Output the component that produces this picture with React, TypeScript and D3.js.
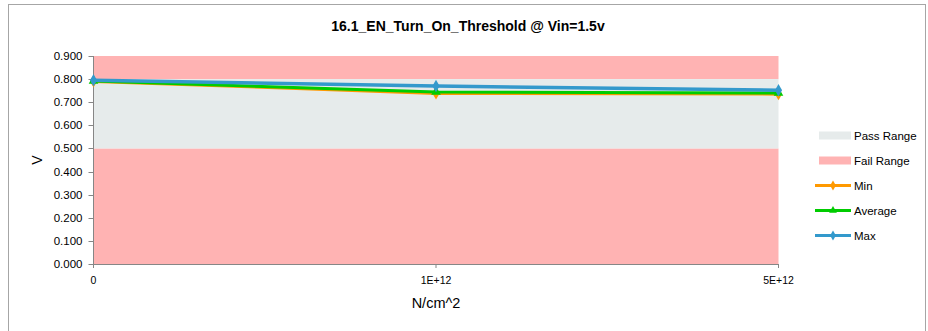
import * as d3 from "d3";

const categories = ["0", "1E+12", "5E+12"];
const minValues = [0.79, 0.738, 0.735];
const avgValues = [0.792, 0.744, 0.74];
const maxValues = [0.795, 0.77, 0.752];
const yTicks = [0, 0.1, 0.2, 0.3, 0.4, 0.5, 0.6, 0.7, 0.8, 0.9];
const passRange = [0.5, 0.8];
const failRanges = [
  [0, 0.5],
  [0.8, 0.9],
];

const series = [
  { name: "Min", values: minValues, color: "#FF9900", marker: "diamond", width: 3 },
  { name: "Average", values: avgValues, color: "#00CC00", marker: "triangle", width: 3 },
  { name: "Max", values: maxValues, color: "#3399CC", marker: "diamond", width: 3.5 },
];

const font = "'Liberation Sans', Arial, sans-serif";

export default function App() {
  const width = 928;
  const height = 331;
  const plot = { left: 93.5, right: 778.5, top: 56, bottom: 264 };

  const x = d3.scalePoint<string>().domain(categories).range([plot.left, plot.right]).padding(0);
  const y = d3.scaleLinear().domain([0, 0.9]).range([plot.bottom, plot.top]);

  const line = d3
    .line<number>()
    .x((_, i) => x(categories[i])!)
    .y((d) => y(d));

  const diamond = d3.symbol(d3.symbolDiamond, 44)();
  const triangle = d3.symbol(d3.symbolTriangle, 40)();
  const smallDiamond = d3.symbol(d3.symbolDiamond, 28)();
  const smallTriangle = d3.symbol(d3.symbolTriangle, 26)();

  const legendX = 819;
  const legendItems = [
    { name: "Pass Range", kind: "rect", color: "#E6EBEB", marker: "" },
    { name: "Fail Range", kind: "rect", color: "#FFB3B3", marker: "" },
    ...series.map((s) => ({ name: s.name, kind: "line", color: s.color, marker: s.marker })),
  ];

  return (
    <svg
      width={width}
      height={height}
      style={{ position: "absolute", left: 0, top: 0, fontFamily: font }}
    >
      <rect x={0} y={0} width={width} height={height} fill="#fff" />
      <rect x={8.5} y={4.5} width={917} height={340} fill="#fff" stroke="#A6A6A6" />

      <text x={468} y={31} textAnchor="middle" fontSize={14} fontWeight="bold" fill="#000">
        16.1_EN_Turn_On_Threshold @ Vin=1.5v
      </text>

      {failRanges.map((r, i) => (
        <rect
          key={i}
          x={plot.left}
          y={y(r[1])}
          width={plot.right - plot.left}
          height={y(r[0]) - y(r[1])}
          fill="#FFB3B3"
        />
      ))}
      <rect
        x={plot.left}
        y={y(passRange[1])}
        width={plot.right - plot.left}
        height={y(passRange[0]) - y(passRange[1])}
        fill="#E6EBEB"
      />

      {/* y axis */}
      <line x1={plot.left} x2={plot.left} y1={plot.top} y2={plot.bottom} stroke="#868686" />
      {yTicks.map((t) => (
        <g key={t}>
          <line x1={plot.left - 5} x2={plot.left} y1={Math.round(y(t)) + 0.5} y2={Math.round(y(t)) + 0.5} stroke="#868686" />
          <text x={plot.left - 11} y={y(t)} dy="0.35em" textAnchor="end" fontSize={11.5} fill="#000">
            {d3.format(".3f")(t)}
          </text>
        </g>
      ))}
      <text
        transform={`translate(37, ${(plot.top + plot.bottom) / 2}) rotate(-90)`}
        textAnchor="middle"
        dy="0.35em"
        fontSize={14}
        fill="#000"
      >
        V
      </text>

      {/* x axis */}
      <line x1={plot.left} x2={plot.right} y1={plot.bottom + 0.5} y2={plot.bottom + 0.5} stroke="#868686" />
      {categories.map((c) => (
        <g key={c}>
          <line x1={x(c)} x2={x(c)} y1={plot.bottom} y2={plot.bottom + 4} stroke="#868686" />
          <text x={x(c)} y={280} dy="0.35em" textAnchor="middle" fontSize={10.5} fill="#000">
            {c}
          </text>
        </g>
      ))}
      <text x={436} y={303} dy="0.35em" textAnchor="middle" fontSize={14.5} fill="#000">
        N/cm^2
      </text>

      {/* series */}
      {series.map((s) => (
        <g key={s.name}>
          <path d={line(s.values)!} fill="none" stroke={s.color} strokeWidth={s.width} strokeLinejoin="round" />
          {s.values.map((v, i) => (
            <path
              key={i}
              d={s.marker === "diamond" ? diamond : triangle}
              transform={`translate(${x(categories[i])}, ${y(v)})`}
              fill={s.color}
            />
          ))}
        </g>
      ))}

      {/* legend */}
      {legendItems.map((item, i) => {
        const cy = 135.5 + i * 25;
        return (
          <g key={item.name}>
            {item.kind === "rect" ? (
              <rect x={legendX} y={cy - 4} width={32} height={8} fill={item.color} />
            ) : (
              <g>
                <line x1={legendX - 4} x2={legendX + 32} y1={cy} y2={cy} stroke={item.color} strokeWidth={3} />
                <path
                  d={item.marker === "diamond" ? smallDiamond : smallTriangle}
                  transform={`translate(${legendX + 14}, ${cy})`}
                  fill={item.color}
                />
              </g>
            )}
            <text x={legendX + 35} y={cy} dy="0.35em" fontSize={11.5} fill="#000">
              {item.name}
            </text>
          </g>
        );
      })}
    </svg>
  );
}
